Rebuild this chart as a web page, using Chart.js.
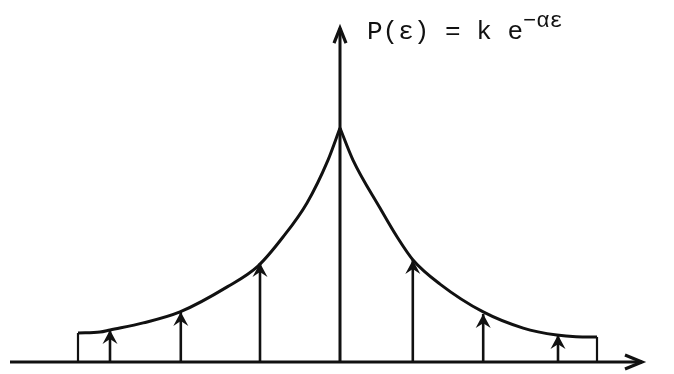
<!DOCTYPE html>
<html>
<head>
<meta charset="utf-8">
<script src="https://cdn.jsdelivr.net/npm/chart.js@4/dist/chart.umd.min.js"></script>
<style>
  html, body { margin: 0; padding: 0; background: #fff; }
  #wrap { position: relative; width: 674px; height: 374px; }
  #formula {
    position: absolute; left: 367px; top: 19px;
    font-family: 'Liberation Mono', 'DejaVu Sans Mono', monospace;
    font-size: 26px; line-height: 1; color: #111; white-space: pre;
  }
  #formula sup { font-size: 22px; vertical-align: baseline; position: relative; top: -12px; }
</style>
</head>
<body>
<div id="wrap">
  <canvas id="c" width="674" height="374"></canvas>
  <div id="formula">P(ε) = k e<sup>−αε</sup></div>
</div>
<script>
// sketch of P(eps) = k e^(-alpha eps): cusp curve, sample arrows, axes

// left branch of the curve (eps, P)
const leftEps = [-3.275, -3.0, -2.875, -2.46, -2.0, -1.41, -1.025, -0.7125, -0.4125, -0.15, 0];
const leftP   = [0.124, 0.128, 0.137, 0.167, 0.214, 0.321, 0.41, 0.534, 0.68, 0.863, 1.0];
// right branch
const rightEps = [0, 0.1625, 0.5, 0.7125, 0.9125, 1.25, 1.79, 2.29, 2.71, 2.95, 3.2125];
const rightP   = [1.0, 0.863, 0.658, 0.535, 0.436, 0.333, 0.214, 0.145, 0.115, 0.108, 0.107];
// sample arrows
const spikeEps = [-2.875, -1.99, -1.0, 0.91, 1.79, 2.725];
const spikeTop = [0.137, 0.214, 0.423, 0.436, 0.205, 0.115];
// closing verticals at both ends of the curve
const edgeEps = [-3.275, 3.2125];
const edgeTop = [0.124, 0.107];
// axes
const xAxisEnds = [-4.125, 3.775];
const yAxisTop = 1.427;

const ink = '#111';

const line = (pts, width, extra = {}) => Object.assign({
  data: pts, showLine: true, borderColor: ink, backgroundColor: ink,
  borderWidth: width, pointRadius: 0, fill: false, tension: 0,
}, extra);

const datasets = [];
datasets.push(line(xAxisEnds.map(x => ({ x, y: 0 })), 3, { head: { len: 17, half: 7, open: true } }));
datasets.push(line([{ x: 0, y: 0 }, { x: 0, y: yAxisTop }], 3, { head: { len: 15, half: 6, open: true } }));
datasets.push(line(leftEps.map((x, i) => ({ x, y: leftP[i] })), 3, { cubicInterpolationMode: 'monotone' }));
datasets.push(line(rightEps.map((x, i) => ({ x, y: rightP[i] })), 3, { cubicInterpolationMode: 'monotone' }));
spikeEps.forEach((x, i) => {
  datasets.push(line([{ x, y: 0 }, { x, y: spikeTop[i] }], 2.6, { head: { len: 14, half: 7.5, open: false } }));
});
edgeEps.forEach((x, i) => {
  datasets.push(line([{ x, y: 0 }, { x, y: edgeTop[i] }], 2.2));
});

// arrowheads at the last point of flagged datasets
const arrowHeads = {
  id: 'arrowHeads',
  afterDatasetsDraw(chart) {
    const ctx = chart.ctx;
    chart.data.datasets.forEach((ds, i) => {
      if (!ds.head) return;
      const pts = chart.getDatasetMeta(i).data;
      const a = pts[pts.length - 2], b = pts[pts.length - 1];
      const ang = Math.atan2(b.y - a.y, b.x - a.x);
      const { len, half, open } = ds.head;
      ctx.save();
      ctx.translate(b.x, b.y);
      ctx.rotate(ang);
      ctx.beginPath();
      ctx.moveTo(-len, -half);
      ctx.lineTo(0, 0);
      ctx.lineTo(-len, half);
      ctx.strokeStyle = ink;
      ctx.fillStyle = ink;
      ctx.lineJoin = 'miter';
      if (open) {
        ctx.lineWidth = 3.2;
        ctx.stroke();
      } else {
        ctx.lineTo(-len * 0.65, 0);
        ctx.closePath();
        ctx.fill();
      }
      ctx.restore();
    });
  }
};

new Chart(document.getElementById('c').getContext('2d'), {
  type: 'scatter',
  data: { datasets },
  options: {
    responsive: false, animation: false,
    layout: { padding: 0 },
    scales: {
      x: { type: 'linear', display: false, min: -4.25, max: 4.175 },
      y: { type: 'linear', display: false, min: -0.0513, max: 1.547 },
    },
    plugins: { legend: { display: false }, tooltip: { enabled: false } },
  },
  plugins: [arrowHeads],
});
</script>
</body>
</html>
